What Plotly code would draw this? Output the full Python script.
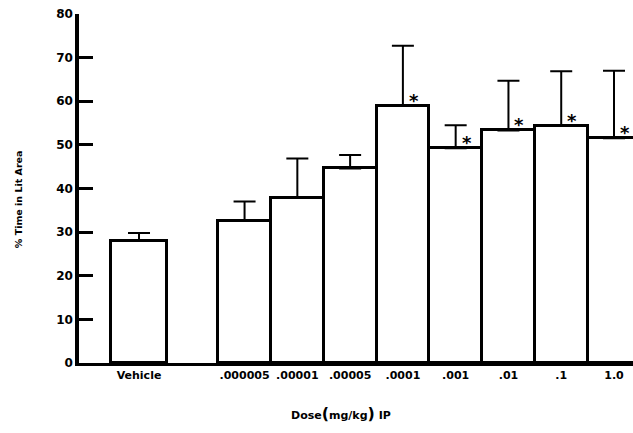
import plotly.graph_objects as go

categories = ["Vehicle", ".000005", ".00001", ".00005", ".0001", ".001", ".01", ".1", "1.0"]
positions = [0, 2, 3, 4, 5, 6, 7, 8, 9]
means = [28.0, 32.6, 37.8, 44.6, 58.9, 49.2, 53.3, 54.4, 51.5]
error_tops = [29.8, 37.0, 46.9, 47.7, 72.7, 54.5, 64.7, 66.9, 67.0]
significant = [False, False, False, False, True, True, True, True, True]
bar_widths = [1.06, 1, 1, 1, 1, 1, 1, 1, 1]

errors = [t - m for t, m in zip(error_tops, means)]

FONT = "DejaVu Sans"

fig = go.Figure()
fig.add_trace(go.Bar(
    x=positions, y=means, width=bar_widths,
    marker=dict(color="white", line=dict(color="black", width=3)),
    error_y=dict(type="data", array=errors, arrayminus=[0] * len(errors),
                 symmetric=False, color="black", thickness=2, width=11),
    showlegend=False, hoverinfo="skip",
))

for p, m, s in zip(positions, means, significant):
    if s:
        fig.add_annotation(x=p, y=m, text="<b>*</b>", showarrow=False,
                           xanchor="center", yanchor="bottom", xshift=11, yshift=-7,
                           font=dict(family=FONT, size=18, color="black"))

fig.add_annotation(xref="paper", yref="paper", x=-0.108, y=0.47, text="<b>% Time in Lit Area</b>",
                   showarrow=False, textangle=-90, xanchor="center", yanchor="middle",
                   font=dict(family=FONT, size=9.5, color="black"))
fig.add_annotation(xref="paper", yref="paper", x=0.473, y=-0.112,
                   text="<b>Dose<span style='font-size:16px'>(</span>mg/kg<span style='font-size:16px'>)</span> IP</b>",
                   showarrow=False, xanchor="center", yanchor="top",
                   font=dict(family=FONT, size=11, color="black"))

fig.update_layout(
    width=633, height=433,
    margin=dict(l=79, r=0, t=14, b=70),
    paper_bgcolor="white", plot_bgcolor="white",
    font=dict(family=FONT, size=10, color="black"),
    bargap=0,
)
fig.update_xaxes(
    range=[-1.137, 9.36], tickmode="array", tickvals=positions,
    ticktext=["<b>%s</b>" % c for c in categories],
    showgrid=False, zeroline=False, showline=True, linecolor="black", linewidth=3,
    ticks="", tickfont=dict(family=FONT, size=11, color="black"),
)
fig.update_yaxes(
    range=[0, 80], tickmode="array", tickvals=list(range(0, 81, 10)),
    ticktext=["<b>%d</b>" % v for v in range(0, 81, 10)],
    showgrid=False, zeroline=False, showline=True, linecolor="black", linewidth=3.5,
    ticks="inside", ticklen=14, tickwidth=2.5, tickcolor="black",
    tickfont=dict(family=FONT, size=12, color="black"),
)

fig.write_html("out.html", config={"displayModeBar": False},
               post_script="document.body.style.margin='0';document.body.style.overflow='hidden';")
